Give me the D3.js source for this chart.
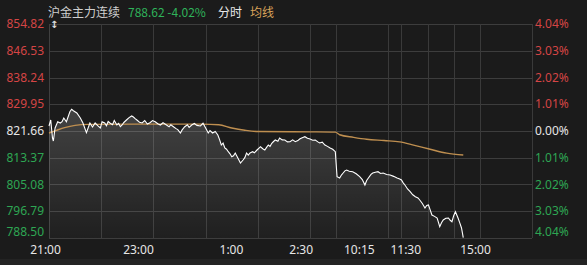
<!DOCTYPE html>
<html>
<head>
<meta charset="utf-8">
<script src="https://cdn.jsdelivr.net/npm/d3@7"></script>
<style>
  html, body { margin: 0; padding: 0; background: #1b1b1b; }
  svg { display: block; }
</style>
</head>
<body>
<div id="chart"></div>
<script>
// Data (trading minutes counted from 21:00, night + day sessions = 555 min)
const priceMinutes = [0, 2, 4, 5, 7, 10, 13, 15, 17, 20, 24, 26, 28, 32, 36, 39, 43, 47, 50, 53, 56, 59, 61, 64, 66, 68, 70, 73, 75, 78, 80, 82, 84, 86, 89, 92, 95, 97, 99, 101, 104, 107, 110, 113, 116, 119, 122, 125, 128, 131, 135, 138, 140, 143, 146, 148, 151, 153, 156, 159, 161, 164, 167, 170, 174, 177, 180, 183, 185, 188, 191, 194, 196, 198, 200, 202, 204, 206, 208, 210, 212, 214, 217, 220, 223, 225, 227, 229, 231, 234, 236, 239, 241, 243, 246, 248, 250, 252, 254, 256, 258, 260, 263, 265, 268, 271, 274, 277, 280, 283, 286, 288, 291, 294, 297, 300, 303, 306, 309, 311, 314, 317, 320, 323, 326, 329,
  331, 334, 336, 338, 340, 342, 345, 349, 353, 357, 360, 363, 365, 367, 370, 372, 375, 378, 381, 384, 388, 392, 396, 400, 403, 405, 407, 409, 412, 415, 418, 421, 424, 426, 429, 432, 434, 436, 438, 440, 443, 446, 449, 451, 453, 456, 459, 461, 463, 465, 467, 470, 472, 474, 476];
const prices = [823.21, 825.07, 819.49, 818.56, 822.59, 824.54, 824.14, 824.54, 825.69, 824.54, 827.64, 828.39, 827.95, 827.24, 825.69, 824.14, 821.13, 824.14, 822.90, 824.14, 823.30, 822.59, 824.54, 824.14, 823.30, 824.60, 824.14, 823.60, 824.90, 823.52, 824.00, 823.00, 823.52, 824.30, 825.07, 825.80, 826.31, 826.00, 825.50, 825.07, 824.40, 824.14, 824.90, 823.80, 824.23, 824.90, 824.54, 823.90, 823.52, 824.20, 823.52, 823.00, 823.60, 822.99, 822.40, 822.10, 821.04, 822.00, 822.99, 823.60, 822.80, 823.52, 824.00, 823.40, 823.21, 824.05, 822.60, 821.04, 821.80, 821.04, 821.50, 820.42, 819.00, 817.32, 817.90, 816.39, 816.00, 815.24, 814.60, 813.69, 814.00, 814.84, 813.29, 811.74, 812.67, 813.40, 814.84, 814.20, 814.84, 815.24, 814.90, 815.77, 816.30, 816.79, 816.10, 815.77, 816.60, 817.32, 816.90, 817.85, 818.40, 818.87, 818.50, 819.49, 818.90, 818.87, 818.30, 818.34, 818.90, 818.34, 818.70, 819.18, 819.60, 819.89, 819.40, 819.18, 818.80, 818.87, 818.30, 817.94, 818.20, 817.32, 816.90, 816.39, 816.00, 815.24,
  807.50, 807.09, 808.00, 808.64, 809.30, 809.57, 809.20, 809.05, 808.40, 807.50, 806.60, 804.92, 806.30, 807.09, 808.20, 808.64, 808.90, 809.05, 808.50, 808.64, 808.20, 808.02, 807.60, 807.09, 806.80, 806.47, 805.60, 804.92, 803.70, 802.85, 801.90, 801.30, 800.90, 800.28, 799.20, 797.80, 798.60, 798.73, 797.20, 795.63, 795.20, 794.70, 792.00, 793.20, 794.08, 794.60, 794.70, 794.00, 793.55, 795.40, 796.65, 794.70, 793.20, 791.60, 788.62];

const avgMinutes = [0, 8, 18, 30, 45, 100, 175, 195, 210, 225, 240, 300, 329, 334, 350, 365, 385, 403, 420, 438, 457, 476];
const avgPrices = [821.04, 821.80, 822.70, 823.40, 823.70, 823.80, 823.80, 823.60, 822.60, 821.90, 821.50, 821.40, 821.30, 820.50, 819.70, 819.10, 818.70, 818.30, 817.20, 816.00, 814.80, 814.20];

const priceTicks = [854.82, 846.53, 838.24, 829.95, 821.66, 813.37, 805.08, 796.79, 788.50];
const basePrice = 821.66;

const gridTimes = ["21:00", "22:00", "23:00", "0:00", "1:00", "2:00", "2:30", "10:00", "10:15", "11:00", "11:30", "14:00", "15:00"];
const labelTimes = ["21:00", "23:00", "1:00", "2:30", "10:15", "11:30", "15:00"];

// clock -> trading minute
function tradeMin(str) {
    const [h, m] = str.split(':').map(Number);
    const t = h * 60 + m;
    if (h >= 21) return t - 21 * 60;
    if (h < 3) return 180 + t;
    if (t <= 10 * 60 + 15) return 330 + (t - 9 * 60);
    if (t <= 11 * 60 + 30) return 405 + (t - (10 * 60 + 30));
    return 465 + (t - (13 * 60 + 30));
}

const width = 587, height = 265;
const plot = { left: 49, right: 532, top: 24, bottom: 238 };

const red = '#d44545', green = '#2ea653', white = '#e6e6e6';
const colorOf = v => v > basePrice ? red : (v < basePrice ? green : white);

// Scales
const xScale = d3.scaleLinear().domain([0, 555]).range([plot.left, plot.right]);
const labelScale = d3.scaleLinear().domain([0, 555]).range([45, 475]);
const yScale = d3.scaleLinear().domain([788.50, 854.82]).range([plot.bottom, plot.top]);

const svg = d3.select('#chart').append('svg')
    .attr('width', width)
    .attr('height', height);

svg.append('rect').attr('width', width).attr('height', height).attr('fill', '#1b1b1b');
svg.append('rect').attr('x', 0).attr('y', 259).attr('width', width).attr('height', 6).attr('fill', '#232323');

// gradient for area
const defs = svg.append('defs');
const grad = defs.append('linearGradient')
    .attr('id', 'areaGrad')
    .attr('gradientUnits', 'userSpaceOnUse')
    .attr('x1', 0).attr('x2', 0)
    .attr('y1', 105).attr('y2', plot.bottom);
grad.append('stop').attr('offset', 0).attr('stop-color', '#ffffff').attr('stop-opacity', 0.18);
grad.append('stop').attr('offset', 1).attr('stop-color', '#ffffff').attr('stop-opacity', 0.02);

// Grid
const grid = svg.append('g');
grid.selectAll('line.h')
    .data(priceTicks)
    .join('line')
    .attr('class', 'h')
    .attr('x1', plot.left).attr('x2', plot.right)
    .attr('y1', d => Math.round(yScale(d)) + 0.5)
    .attr('y2', d => Math.round(yScale(d)) + 0.5)
    .attr('stroke', '#3d3d3d');
grid.selectAll('line.v')
    .data(gridTimes)
    .join('line')
    .attr('class', 'v')
    .attr('x1', d => Math.round(xScale(tradeMin(d))) + 0.5)
    .attr('x2', d => Math.round(xScale(tradeMin(d))) + 0.5)
    .attr('y1', plot.top).attr('y2', plot.bottom)
    .attr('stroke', '#3a3a3a');
grid.append('line')
    .attr('x1', plot.left + 0.5).attr('x2', plot.left + 0.5)
    .attr('y1', plot.top).attr('y2', plot.bottom)
    .attr('stroke', '#404040');

// Price area + line
const pts = priceMinutes.map((m, i) => [m, prices[i]]);
const area = d3.area()
    .x(d => xScale(d[0]))
    .y0(plot.bottom)
    .y1(d => yScale(d[1]));
svg.append('path')
    .datum(pts)
    .attr('d', area)
    .attr('fill', 'url(#areaGrad)');

const avgLine = d3.line()
    .x(d => xScale(d[0]))
    .y(d => yScale(d[1]))
    .curve(d3.curveMonotoneX);

const avgPts = avgMinutes.map((m, i) => [m, avgPrices[i]]);
svg.append('path')
    .datum(avgPts)
    .attr('d', avgLine)
    .attr('fill', 'none')
    .attr('stroke', '#bf8f50')
    .attr('stroke-width', 1.4);

svg.append('path')
    .datum(pts)
    .attr('d', d3.line().x(d => xScale(d[0])).y(d => yScale(d[1])))
    .attr('fill', 'none')
    .attr('stroke', '#ffffff')
    .attr('stroke-width', 1.1);

// Left price labels
svg.append('g').selectAll('text')
    .data(priceTicks)
    .join('text')
    .attr('x', 44)
    .attr('y', d => Math.min(yScale(d), 232))
    .attr('dy', '0.35em')
    .attr('text-anchor', 'end')
    .attr('fill', colorOf)
    .style('font', '12px "Noto Sans", sans-serif')
    .text(d => d.toFixed(2));

// Right percent labels
svg.append('g').selectAll('text')
    .data(priceTicks)
    .join('text')
    .attr('x', 535)
    .attr('y', d => Math.min(yScale(d), 232))
    .attr('dy', '0.35em')
    .attr('fill', colorOf)
    .style('font', '12px "Noto Sans", sans-serif')
    .text(d => (Math.abs(d / basePrice - 1) * 100).toFixed(2) + '%');

// Time axis
const xAxis = d3.axisBottom(labelScale)
    .tickValues(labelTimes.map(tradeMin))
    .tickFormat((d, i) => labelTimes[i])
    .tickSize(0);
const xAxisGroup = svg.append('g')
    .attr('transform', `translate(0, ${242})`)
    .call(xAxis);
xAxisGroup.select('.domain').remove();
xAxisGroup.selectAll('text')
    .attr('fill', white)
    .style('font', '12px "Noto Sans", sans-serif');

// Small scale icon
svg.append('text')
    .attr('x', 50).attr('y', 28)
    .attr('fill', '#dddddd')
    .style('font', 'bold 10px "DejaVu Sans", sans-serif')
    .text('↕');

// Header
const header = svg.append('g').style('font', '12px "Noto Sans CJK SC", "Noto Sans", sans-serif');
header.append('text').attr('x', 48).attr('y', 17).attr('fill', '#cfcfcf').text('沪金主力连续');
header.append('text').attr('x', 128).attr('y', 17).attr('fill', '#2fb35a').text('788.62 -4.02%');
header.append('text').attr('x', 218).attr('y', 17).attr('fill', '#e8e8e8').text('分时');
header.append('text').attr('x', 250).attr('y', 17).attr('fill', '#d9a35a').text('均线');
</script>
</body>
</html>
